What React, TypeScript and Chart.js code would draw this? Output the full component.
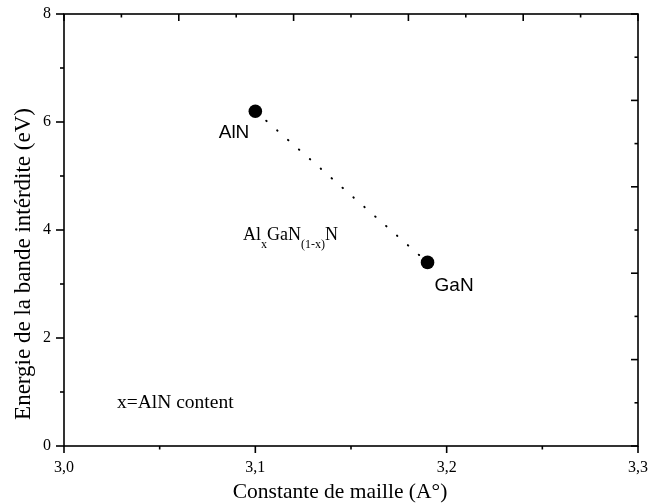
import React, { useEffect, useRef } from "react";
import { Chart, registerables } from "chart.js";

Chart.register(...registerables);

// ---- Data ----
const materials = ["AlN", "GaN"];
const latticeConstants = [3.1, 3.19]; // Å
const bandGaps = [6.2, 3.4]; // eV

// ---- Axis ticks ----
const xMajorTicks = [3.0, 3.1, 3.2, 3.3];
const xMinorTicks = [3.05, 3.15, 3.25];
const xTickLabels = ["3,0", "3,1", "3,2", "3,3"];
const yMajorTicks = [0, 2, 4, 6, 8];
const yMinorTicks = [1, 3, 5, 7];
const yTickLabels = ["0", "2", "4", "6", "8"];
const topMajorTicks = [3.0, 3.06, 3.12, 3.18, 3.24, 3.3];
const topMinorTicks = [3.03, 3.09, 3.15, 3.21, 3.27];
const rightMajorTicks = [0, 1.6, 3.2, 4.8, 6.4, 8];
const rightMinorTicks = [0.8, 2.4, 4.0, 5.6, 7.2];

// ---- Texts ----
const xTitle = "Constante de maille (A°)";
const yTitle = "Energie de la bande intérdite (eV)";
const noteText = "x=AlN content";
const notePos = { x: 3.0277, y: 0.70 };
const formulaPos = { x: 3.0936, y: 3.82 };

const SERIF = "'Liberation Serif', 'Times New Roman', serif";
const SANS = "'Liberation Sans', Arial, sans-serif";

const decorPlugin = {
  id: "originDecor",
  afterDraw(chart: any) {
    const { ctx, chartArea } = chart;
    const { left, right, top, bottom } = chartArea;
    const xs = chart.scales.x;
    const ys = chart.scales.y;
    ctx.save();
    ctx.strokeStyle = "#000";
    ctx.fillStyle = "#000";
    ctx.lineWidth = 1.6;
    ctx.lineCap = "butt";
    ctx.strokeRect(left, top, right - left, bottom - top);

    const vTick = (px: number, y0: number, y1: number) => {
      ctx.beginPath();
      ctx.moveTo(px, y0);
      ctx.lineTo(px, y1);
      ctx.stroke();
    };
    const hTick = (py: number, x0: number, x1: number) => {
      ctx.beginPath();
      ctx.moveTo(x0, py);
      ctx.lineTo(x1, py);
      ctx.stroke();
    };
    // bottom (outward)
    xMajorTicks.forEach((v) => vTick(xs.getPixelForValue(v), bottom, bottom + 7));
    xMinorTicks.forEach((v) => vTick(xs.getPixelForValue(v), bottom, bottom + 3.5));
    // left (outward)
    yMajorTicks.forEach((v) => hTick(ys.getPixelForValue(v), left, left - 8));
    yMinorTicks.forEach((v) => hTick(ys.getPixelForValue(v), left, left - 4));
    // top (inward)
    topMajorTicks.forEach((v) => vTick(xs.getPixelForValue(v), top, top + 7));
    topMinorTicks.forEach((v) => vTick(xs.getPixelForValue(v), top, top + 3.5));
    // right (inward)
    rightMajorTicks.forEach((v) => hTick(ys.getPixelForValue(v), right, right - 7));
    rightMinorTicks.forEach((v) => hTick(ys.getPixelForValue(v), right, right - 3.5));

    // tick labels
    ctx.font = `16px ${SERIF}`;
    ctx.textAlign = "center";
    ctx.textBaseline = "top";
    xMajorTicks.forEach((v, i) => ctx.fillText(xTickLabels[i], xs.getPixelForValue(v), bottom + 14));
    ctx.textAlign = "right";
    ctx.textBaseline = "middle";
    yMajorTicks.forEach((v, i) => ctx.fillText(yTickLabels[i], left - 13, ys.getPixelForValue(v)));

    // axis titles
    ctx.font = `21.5px ${SERIF}`;
    ctx.textAlign = "center";
    ctx.textBaseline = "alphabetic";
    ctx.fillText(xTitle, 340, 498);
    ctx.save();
    ctx.font = `23px ${SERIF}`;
    ctx.translate(30, 264);
    ctx.rotate(-Math.PI / 2);
    ctx.fillText(yTitle, 0, 0);
    ctx.restore();

    // point labels
    ctx.font = `19px ${SANS}`;
    const p0x = xs.getPixelForValue(latticeConstants[0]);
    const p0y = ys.getPixelForValue(bandGaps[0]);
    ctx.textAlign = "right";
    ctx.fillText(materials[0], p0x - 6, p0y + 27);
    const p1x = xs.getPixelForValue(latticeConstants[1]);
    const p1y = ys.getPixelForValue(bandGaps[1]);
    ctx.textAlign = "left";
    ctx.fillText(materials[1], p1x + 7, p1y + 29);

    // formula Al_x GaN_(1-x) N
    let fx = xs.getPixelForValue(formulaPos.x);
    const fy = ys.getPixelForValue(formulaPos.y);
    const parts: [string, boolean][] = [["Al", false], ["x", true], ["GaN", false], ["(1-x)", true], ["N", false]];
    ctx.textAlign = "left";
    parts.forEach(([t, sub]) => {
      ctx.font = sub ? `12px ${SERIF}` : `18px ${SERIF}`;
      ctx.fillText(t, fx, sub ? fy + 8 : fy);
      fx += ctx.measureText(t).width;
    });

    // note
    ctx.font = `19.5px ${SERIF}`;
    ctx.fillText(noteText, xs.getPixelForValue(notePos.x), ys.getPixelForValue(notePos.y));
    ctx.restore();
  },
};

export default function App() {
  const ref = useRef<HTMLCanvasElement | null>(null);
  useEffect(() => {
    if (!ref.current) return;
    const chart = new Chart(ref.current, {
      type: "scatter",
      data: {
        labels: materials,
        datasets: [
          {
            data: latticeConstants.map((x, i) => ({ x, y: bandGaps[i] })),
            showLine: true,
            borderColor: "#000",
            borderWidth: 2,
            borderDash: [0.5, 14],
            borderCapStyle: "round",
            backgroundColor: "#000",
            pointRadius: 6.8,
            pointBorderWidth: 0,
            pointBackgroundColor: "#000",
          },
        ],
      },
      options: {
        responsive: false,
        animation: false,
        layout: { autoPadding: false, padding: { left: 64, top: 14, right: 11, bottom: 58 } },
        plugins: { legend: { display: false }, tooltip: { enabled: false } },
        scales: {
          x: { type: "linear", min: 3.0, max: 3.3, display: false },
          y: { type: "linear", min: 0, max: 8, display: false },
        },
      },
      plugins: [decorPlugin],
    } as any);
    return () => chart.destroy();
  }, []);
  return (
    <div style={{ position: "absolute", left: 0, top: 0, width: 649, height: 504, background: "#fff" }}>
      <canvas ref={ref} width={649} height={504} />
    </div>
  );
}
